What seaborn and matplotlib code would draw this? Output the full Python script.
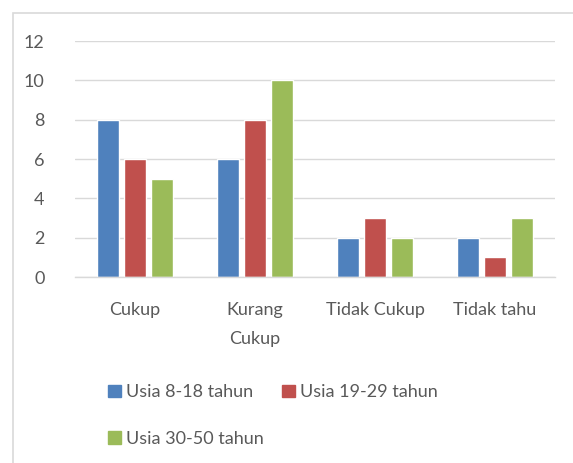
import matplotlib
matplotlib.use("Agg")
import matplotlib.pyplot as plt
import seaborn as sns
import pandas as pd
from matplotlib.patches import Rectangle, Patch

categories = ["Cukup", "Kurang\nCukup", "Tidak Cukup", "Tidak tahu"]
series_names = ["Usia 8-18 tahun", "Usia 19-29 tahun", "Usia 30-50 tahun"]
s1 = [8, 6, 2, 2]
s2 = [6, 8, 3, 1]
s3 = [5, 10, 2, 3]
colors = ["#4F81BD", "#C0504D", "#9BBB59"]
yticks = [0, 2, 4, 6, 8, 10, 12]

rows = []
for name, vals in zip(series_names, [s1, s2, s3]):
    for c, v in zip(categories, vals):
        rows.append({"cat": c, "series": name, "val": v})
df = pd.DataFrame(rows)

sns.set_theme(style="white")
plt.rcParams['font.family'] = ['Lato', 'DejaVu Sans']

fig = plt.figure(figsize=(5.73, 4.63), dpi=100)
ax = fig.add_axes([75/573, 1-277/463, 480/573, 236/463])

sns.barplot(data=df, x="cat", y="val", hue="series", order=categories,
            hue_order=series_names, palette=colors, width=0.68, gap=0.18,
            saturation=1, ax=ax, legend=False, errorbar=None)

ax.set_ylim(0, 12)
ax.set_xlim(-0.5, 3.5)
ax.set_yticks(yticks)
ax.set_yticklabels([str(t) for t in yticks])
ax.yaxis.grid(True, color="#D9D9D9", linewidth=1)
ax.set_axisbelow(True)
for sp in ["top", "right", "left"]:
    ax.spines[sp].set_visible(False)
ax.spines["bottom"].set_color("#D9D9D9")
ax.spines["bottom"].set_linewidth(1)
ax.set_xlabel("")
ax.set_ylabel("")
ax.tick_params(axis="both", length=0, colors="#595959", labelsize=13)
ax.tick_params(axis="x", pad=18)
ax.tick_params(axis="y", pad=22)
for lbl in ax.get_xticklabels():
    lbl.set_linespacing(2.0)

# border
fig.patches.append(Rectangle((13/573, -0.01), 1.0, 1 - 13/463 + 0.01,
                             transform=fig.transFigure, fill=False,
                             edgecolor="#D9D9D9", linewidth=1.2))

order = [0, 2, 1]
handles = [Patch(facecolor=colors[i], edgecolor=colors[i]) for i in order]
labels = [series_names[i] for i in order]
fig.legend(handles, labels, loc="upper left", ncol=2,
           bbox_to_anchor=(92/573, 1 - 368/463), frameon=False,
           fontsize=13, labelcolor="#595959", handlelength=0.7,
           handleheight=0.7, handletextpad=0.3, columnspacing=1.0,
           labelspacing=1.7)

fig.savefig("out.png", dpi=100, facecolor="white")
